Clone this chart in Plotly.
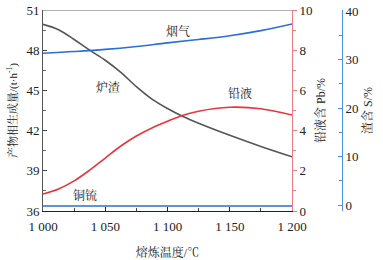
import plotly.graph_objects as go

temps = [1000, 1012.5, 1025, 1037.5, 1050, 1062.5, 1075, 1087.5, 1100, 1112.5, 1125, 1150, 1175, 1200]
slag = [49.93, 49.53, 48.80, 48.00, 47.25, 46.35, 45.28, 44.35, 43.65, 43.05, 42.55, 41.65, 40.82, 40.05]
lead = [37.27, 37.65, 38.25, 39.05, 39.95, 40.85, 41.60, 42.20, 42.70, 43.15, 43.45, 43.74, 43.63, 43.16]
gas_temps = [1000, 1025, 1050, 1075, 1100, 1125, 1150, 1175, 1200]
gas = [47.77, 47.90, 48.06, 48.28, 48.55, 48.80, 49.08, 49.46, 49.96]
matte = [36.37] * 9

x_ticks = [1000, 1050, 1100, 1150, 1200]
x_ticktext = ["1 000", "1 050", "1 100", "1 150", "1 200"]
left_ticks = [36, 39, 42, 45, 48, 51]
pb_ticks = [0, 2, 4, 6, 8, 10]
s_ticks = [0, 10, 20, 30, 40]

labels = ["烟气", "炉渣", "铅液", "铜锍"]
label_x = [1108.5, 1052, 1158.4, 1033.6]
label_y = [49.36, 45.18, 44.8, 37.12]

FONT = "Liberation Serif, Noto Serif CJK SC, Noto Sans CJK SC, serif"
GRAY = "#555555"
RED = "#e8353b"
BLUE = "#2a6fd6"
RED_AX = "#f07a7e"
BLUE_AX = "#4a8fe0"

fig = go.Figure()
fig.add_trace(go.Scatter(x=temps, y=slag, mode="lines", line=dict(color=GRAY, width=1.6, shape="spline"), showlegend=False))
fig.add_trace(go.Scatter(x=temps, y=lead, mode="lines", line=dict(color=RED, width=1.6, shape="spline"), showlegend=False))
fig.add_trace(go.Scatter(x=gas_temps, y=gas, mode="lines", line=dict(color=BLUE, width=1.6, shape="spline"), showlegend=False))
fig.add_trace(go.Scatter(x=gas_temps, y=matte, mode="lines", line=dict(color=BLUE, width=1.6), showlegend=False))
fig.add_trace(go.Scatter(x=[1000], y=[0], yaxis="y2", mode="markers", marker=dict(opacity=0), showlegend=False, hoverinfo="skip"))
fig.add_trace(go.Scatter(x=[1000], y=[0], yaxis="y3", mode="markers", marker=dict(opacity=0), showlegend=False, hoverinfo="skip"))

for t, xv, yv in zip(labels, label_x, label_y):
    fig.add_annotation(x=xv, y=yv, text=t, showarrow=False, font=dict(size=12, color="#222", family=FONT))

L, R = 43, 5
W = 383 - L - R
fig.update_layout(
    width=383, height=260,
    margin=dict(l=L, r=R, t=10, b=49, autoexpand=False),
    paper_bgcolor="white", plot_bgcolor="white",
    font=dict(family=FONT, size=13, color="#222"),
    xaxis=dict(domain=[0, 249 / W], range=[1000, 1200], tickvals=x_ticks, ticktext=x_ticktext,
               ticks="inside", ticklen=4, tickcolor="#222", showline=True, linecolor="#222", linewidth=1,
               mirror=False, showgrid=False, zeroline=False, automargin=False, ticklabelstandoff=3,
               minor=dict(dtick=25, ticks="inside", ticklen=3, tickcolor="#444"),
               title=dict(text="熔炼温度/℃", font=dict(size=12), standoff=16)),
    yaxis=dict(range=[36, 51], tickvals=left_ticks, ticks="inside", ticklen=4, tickcolor="#444",
               showline=True, linecolor="#555", linewidth=1, showgrid=False, zeroline=False, automargin=False,
               minor=dict(dtick=1.5, ticks="inside", ticklen=3, tickcolor="#666"),
               title=dict(text="产物相生成量/(t·h<sup>-1</sup>)", font=dict(size=11), standoff=6)),
    yaxis2=dict(range=[0, 10], tickvals=pb_ticks, overlaying="y", side="right", anchor="x",
                ticks="outside", ticklen=4, tickcolor=RED_AX, showline=True, linecolor=RED_AX, linewidth=1,
                showgrid=False, zeroline=False, automargin=False,
                minor=dict(dtick=1, ticks="outside", ticklen=3, tickcolor=RED_AX),
                title=dict(text="铅液含 Pb/%", font=dict(size=12), standoff=5)),
    yaxis3=dict(range=[-1.23, 40.2], tickvals=s_ticks, overlaying="y", side="right", anchor="free",
                position=(342 - L) / W,
                ticks="inside", ticklen=4, tickcolor=BLUE_AX, showline=True, linecolor=BLUE_AX, linewidth=1,
                showgrid=False, zeroline=False, automargin=False,
                minor=dict(dtick=5, ticks="inside", ticklen=3, tickcolor=BLUE_AX),
                title=dict(text="渣含 S/%", font=dict(size=12), standoff=6)),
    shapes=[dict(type="line", xref="x", yref="y", x0=1000, x1=1200, y0=51, y1=51,
                 line=dict(color="#666", width=1))],
)

fig.write_html("out.html", config={"displayModeBar": False},
               post_script="document.body.style.margin='0';document.body.style.padding='0';")
